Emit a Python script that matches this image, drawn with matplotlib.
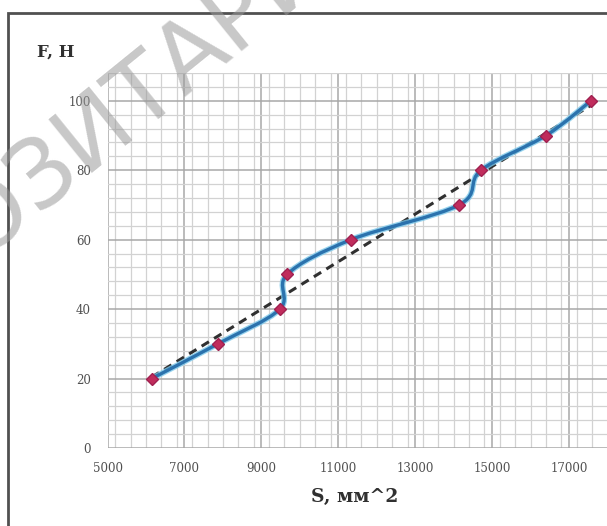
import numpy as np
import matplotlib
matplotlib.use("Agg")
import matplotlib.pyplot as plt
from matplotlib.path import Path
from matplotlib.patches import PathPatch, Rectangle
from matplotlib.ticker import MultipleLocator

# ---- data ----
S_values = [6150, 7870, 9480, 9670, 11330, 14140, 14710, 16400, 17570]
F_values = [20, 30, 40, 50, 60, 70, 80, 90, 100]
x_ticks = [5000, 7000, 9000, 11000, 13000, 15000, 17000]
y_ticks = [0, 20, 40, 60, 80, 100]
x_label = "S, мм^2"
y_label = "F, Н"
watermark = "РЕПОЗИТАРИЙ"

W, H = 607, 526
fig = plt.figure(figsize=(W / 100, H / 100), dpi=100)

def fx(px):
    return px / W

def fy(py):
    return 1 - py / H

ax = fig.add_axes([fx(107.5), fy(448), fx(607.5) - fx(107.5), fy(73) - fy(448)])
ax.set_xlim(5000, 18000)
ax.set_ylim(0, 108)
ax.set_xticks(x_ticks)
ax.set_yticks(y_ticks)
ax.xaxis.set_minor_locator(MultipleLocator(400))
ax.yaxis.set_minor_locator(MultipleLocator(4))
ax.grid(which="major", color="#a8a8a8", linewidth=1.1, zorder=0)
ax.grid(which="minor", color="#d2d2d2", linewidth=0.9, zorder=0)
ax.set_axisbelow(True)
for sp in ax.spines.values():
    sp.set_visible(False)
ax.tick_params(which="both", length=0)
ax.tick_params(axis="x", pad=10, labelsize=8.5, labelcolor="#505050")
ax.tick_params(axis="y", pad=12, labelsize=8.5, labelcolor="#505050")
for lab in ax.get_xticklabels() + ax.get_yticklabels():
    lab.set_family("DejaVu Serif")

xs = np.array(S_values, dtype=float)
ys = np.array(F_values, dtype=float)

# linear trendline (least squares fit of the data)
k, b = np.polyfit(xs, ys, 1)
tx = np.array([xs.min(), xs.max()])
ax.plot(tx, k * tx + b, color="#303030", lw=2.2, dashes=(2.8, 2.0), zorder=3)

# smoothed line (Bezier, Excel-like)
P = np.column_stack([xs, ys])
n = len(P)
verts = [P[0]]
codes = [Path.MOVETO]
for i in range(n - 1):
    p0 = P[i - 1] if i > 0 else P[i]
    p1 = P[i]
    p2 = P[i + 1]
    p3 = P[i + 2] if i + 2 < n else P[i + 1]
    c1 = p1 + (p2 - p0) / 6.0
    c2 = p2 - (p3 - p1) / 6.0
    verts += [c1, c2, p2]
    codes += [Path.CURVE4] * 3
path = Path(np.array(verts), codes)
ax.add_patch(PathPatch(path, fill=False, edgecolor="#7cc8ea", lw=4.2, zorder=4, alpha=0.8))
ax.add_patch(PathPatch(path, fill=False, edgecolor="#2b72ad", lw=2.4, zorder=5))

ax.plot(xs, ys, linestyle="none", marker="D", markersize=6.5, color="#c02c5c",
        markeredgecolor="#a02050", zorder=6)

# titles
fig.text(fx(37), fy(52), y_label, fontsize=12, fontweight="bold",
         family="DejaVu Serif", color="#303030", ha="left", va="center")
fig.text(fx(355), fy(497), x_label, fontsize=13.5, fontweight="bold",
         family="DejaVu Serif", color="#303030", ha="center", va="center")

# chart-area border (cropped at right and bottom)
fig.patches.append(Rectangle((fx(8), -0.1), 1.2, fy(13) + 0.1, transform=fig.transFigure,
                             fill=False, edgecolor="#505050", lw=2.0, zorder=10))

# watermark
fig.text(fx(94), fy(130), watermark, fontsize=68, color="#9a9a9a", alpha=0.55,
         rotation=39, rotation_mode="anchor", ha="center", va="center",
         family="DejaVu Sans", zorder=20)

fig.savefig("out.png", dpi=100)
